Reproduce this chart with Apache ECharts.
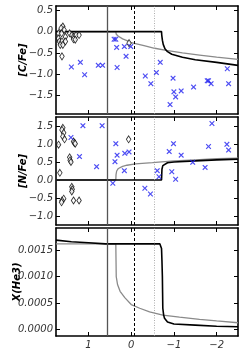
<!DOCTYPE html>
<html><head><meta charset="utf-8">
<script src="https://cdn.jsdelivr.net/npm/echarts@6/dist/echarts.min.js"></script>
<style>html,body{margin:0;padding:0;background:#fff}#c{width:244px;height:354px}</style>
</head><body><div id="c"></div><script>
// ---- data ----
const xTicks = [1, 0, -1, -2];
const cTicks = [0.5, 0, -0.5, -1, -1.5];
const nTicks = [1.5, 1, 0.5, 0, -0.5, -1];
const heTicks = [0.0015, 0.001, 0.0005, 0];
const vSolid = [0.57];
const vDashed = [-0.07];
const vDotted = [-0.53];

const cBlack = [[1.76,0],[-0.71,0],[-0.715,-0.08],[-0.73,-0.2],[-0.75,-0.3],[-0.79,-0.4],[-0.85,-0.47],[-0.95,-0.53],[-1.2,-0.6],[-1.5,-0.66],[-2.0,-0.72],[-2.5,-0.79]];
const cGray = [[1.76,0],[0.36,0],[0.35,-0.06],[0.3,-0.11],[0.2,-0.17],[0.1,-0.21],[0.0,-0.26],[-0.3,-0.33],[-0.55,-0.39],[-0.82,-0.44],[-1.2,-0.5],[-1.6,-0.55],[-2.0,-0.6],[-2.5,-0.65]];
const cDiamonds = [[1.60,0.12],[1.64,0.08],[1.57,0.04],[1.70,-0.04],[1.63,-0.04],[1.44,-0.04],[1.39,-0.08],[1.35,-0.12],[1.29,-0.08],[1.22,-0.08],[1.54,-0.12],[1.35,-0.18],[1.31,-0.19],[1.70,-0.16],[1.68,-0.23],[1.62,-0.23],[1.54,-0.23],[1.66,-0.31],[1.60,-0.31],[1.62,-0.58],[0.05,-0.27]];
const cCrosses = [[1.40,-0.83],[1.19,-0.72],[1.09,-1.01],[0.77,-0.79],[0.67,-0.79],[0.40,-0.18],[0.36,-0.18],[0.34,-0.37],[0.33,-0.84],[0.16,-0.35],[0.12,-0.58],[0.01,-0.35],[-0.33,-1.04],[-0.46,-1.22],[-0.59,-0.96],[-0.68,-0.72],[-0.91,-1.71],[-0.98,-1.09],[-1.0,-1.41],[-1.04,-1.53],[-1.17,-1.39],[-1.46,-1.30],[-1.78,-1.15],[-1.81,-1.15],[-1.87,-1.22],[-2.25,-0.87],[-2.28,-1.22]];

const nBlack = [[1.76,0],[-0.71,0],[-0.715,0.15],[-0.72,0.3],[-0.74,0.4],[-0.78,0.45],[-0.85,0.48],[-1.0,0.5],[-1.5,0.53],[-2.0,0.56],[-2.5,0.58]];
const nGray = [[1.76,0],[0.36,0],[0.355,0.15],[0.34,0.25],[0.3,0.32],[0.2,0.38],[0.1,0.41],[-0.1,0.45],[-0.5,0.48],[-1.0,0.53],[-1.5,0.56],[-2.0,0.59],[-2.5,0.61]];
const nDiamonds = [[1.60,1.45],[1.62,1.39],[1.58,1.31],[1.60,1.21],[1.56,1.13],[1.70,0.98],[1.35,1.07],[1.33,1.03],[1.31,1.01],[1.44,0.63],[1.43,0.55],[1.41,0.50],[1.67,0.20],[1.39,-0.19],[1.38,-0.26],[1.39,-0.32],[1.58,-0.52],[1.62,-0.57],[1.63,-0.62],[1.35,-0.57],[1.22,-0.57],[0.06,1.13]];
const nCrosses = [[1.41,1.18],[1.13,1.51],[0.68,1.51],[1.21,0.65],[0.81,0.37],[0.43,-0.09],[0.38,0.51],[0.36,1.01],[0.33,0.69],[0.16,0.26],[0.15,0.74],[0.05,0.78],[-0.32,-0.23],[-0.45,-0.39],[-0.61,0.26],[-0.65,0.09],[-0.89,0.79],[-0.95,0.23],[-0.99,1.01],[-1.04,0.02],[-1.17,0.69],[-1.44,0.49],[-1.73,0.35],[-1.81,0.93],[-1.89,1.57],[-2.24,0.99],[-2.28,0.83]];

const heBlack = [[1.76,0.00169],[1.4,0.00166],[1.0,0.00164],[0.6,0.00162],[-0.67,0.00162],[-0.69,0.0016],[-0.71,0.00153],[-0.72,0.0013],[-0.73,0.001],[-0.735,0.0007],[-0.74,0.0004],[-0.76,0.00027],[-0.78,0.00021],[-0.85,0.00014],[-1.0,0.0001],[-1.5,0.00008],[-2.0,0.00006],[-2.5,0.00005]];
const heGray = [[1.76,0.00162],[0.36,0.00162],[0.355,0.0013],[0.35,0.001],[0.32,0.00085],[0.26,0.00072],[0.15,0.0006],[0.0,0.00047],[-0.2,0.0004],[-0.43,0.00033],[-0.74,0.00027],[-1.13,0.00023],[-1.6,0.00019],[-2.0,0.00016],[-2.5,0.000125]];

const yNames = ['[C/Fe]', '[N/Fe]', 'X(He3)'];
const yRanges = [[-1.93, 0.6], [-1.25, 1.75], [-0.000126, 0.00192]];
const yTickSets = [cTicks, nTicks, heTicks];
const yDecimals = [1, 1, 4];

// ---- chart ----
const FONT = 'DejaVu Sans';
const tops = [6, 117, 228];
const H = 108;
const nameGaps = [28, 28, 34];
const minus = s => String(s).replace('-', '\u2212');
const crossPath = 'path://M0,1.5L1.5,0L5,3.5L8.5,0L10,1.5L6.5,5L10,8.5L8.5,10L5,6.5L1.5,10L0,8.5L3.5,5Z';

const grid = [], xAxis = [], yAxis = [], series = [];
const blacks = [cBlack, nBlack, heBlack];
const grays = [cGray, nGray, heGray];
const diamonds = [cDiamonds, nDiamonds, null];
const crosses = [cCrosses, nCrosses, null];

for (let i = 0; i < 3; i++) {
  grid.push({left: 56, width: 182, top: tops[i], height: H, outerBoundsMode: 'none', containLabel: false});
  const axLine = {show: true, onZero: false, lineStyle: {color: '#000', width: 1.6}};
  const tick = {show: true, inside: true, length: 4, lineStyle: {color: '#000', width: 1}};
  xAxis.push({gridIndex: i, type: 'value', position: 'bottom', min: -2.5, max: 1.76, inverse: true,
    axisLine: axLine, splitLine: {show: false},
    axisTick: Object.assign({}, tick, {customValues: xTicks}),
    axisLabel: {show: i === 2, customValues: xTicks, formatter: v => minus(v), fontFamily: FONT, fontStyle: 'italic', fontSize: 10, color: '#333', margin: 4}});
  xAxis.push({gridIndex: i, type: 'value', position: 'top', min: -2.5, max: 1.76, inverse: true,
    axisLine: axLine, splitLine: {show: false},
    axisTick: Object.assign({}, tick, {customValues: xTicks}), axisLabel: {show: false}});
  const yt = yTickSets[i];
  yAxis.push({gridIndex: i, type: 'value', position: 'left', min: yRanges[i][0], max: yRanges[i][1],
    name: yNames[i], nameLocation: 'middle', nameGap: nameGaps[i], nameRotate: 90, nameMoveOverlap: false,
    nameTextStyle: {fontFamily: FONT, fontWeight: 'bold', fontStyle: 'italic', fontSize: 10, color: '#000'},
    axisLine: axLine, splitLine: {show: false},
    axisTick: Object.assign({}, tick, {customValues: yt}),
    axisLabel: {customValues: yt, formatter: v => minus(Number(v).toFixed(yDecimals[i])), fontFamily: FONT, fontStyle: 'italic', fontSize: 10, color: '#333', margin: 3}});
  yAxis.push({gridIndex: i, type: 'value', position: 'right', min: yRanges[i][0], max: yRanges[i][1],
    axisLine: axLine, splitLine: {show: false},
    axisTick: Object.assign({}, tick, {customValues: yt}), axisLabel: {show: false}});

  const xa = 2 * i, ya = 2 * i;
  series.push({type: 'line', xAxisIndex: xa, yAxisIndex: ya, data: grays[i], symbol: 'none', z: 3,
    lineStyle: {color: '#8a8a8a', width: 1.3}, animation: false,
    markLine: {silent: true, symbol: 'none', label: {show: false}, animation: false,
      data: [
        ...vSolid.map(v => ({xAxis: v, lineStyle: {color: '#555', width: 1.3, type: 'solid'}})),
        ...vDashed.map(v => ({xAxis: v, lineStyle: {color: '#000', width: 1, type: [3, 2]}})),
        ...vDotted.map(v => ({xAxis: v, lineStyle: {color: '#999', width: 0.8, type: [1, 1.5]}}))
      ]}});
  series.push({type: 'line', xAxisIndex: xa, yAxisIndex: ya, data: blacks[i], symbol: 'none', z: 4,
    lineStyle: {color: '#000', width: 1.6}, animation: false});
  if (diamonds[i]) series.push({type: 'scatter', xAxisIndex: xa, yAxisIndex: ya, data: diamonds[i], z: 5,
    symbol: 'diamond', symbolSize: [4.5, 7], animation: false,
    itemStyle: {color: '#fff', borderColor: '#000', borderWidth: 0.9}});
  if (crosses[i]) series.push({type: 'scatter', xAxisIndex: xa, yAxisIndex: ya, data: crosses[i], z: 6,
    symbol: crossPath, symbolSize: 5.5, animation: false,
    itemStyle: {color: '#2020f0'}});
}

const chart = echarts.init(document.getElementById('c'), null, {renderer: 'canvas'});
chart.setOption({backgroundColor: '#fff', animation: false, grid, xAxis, yAxis, series});
</script></body></html>
